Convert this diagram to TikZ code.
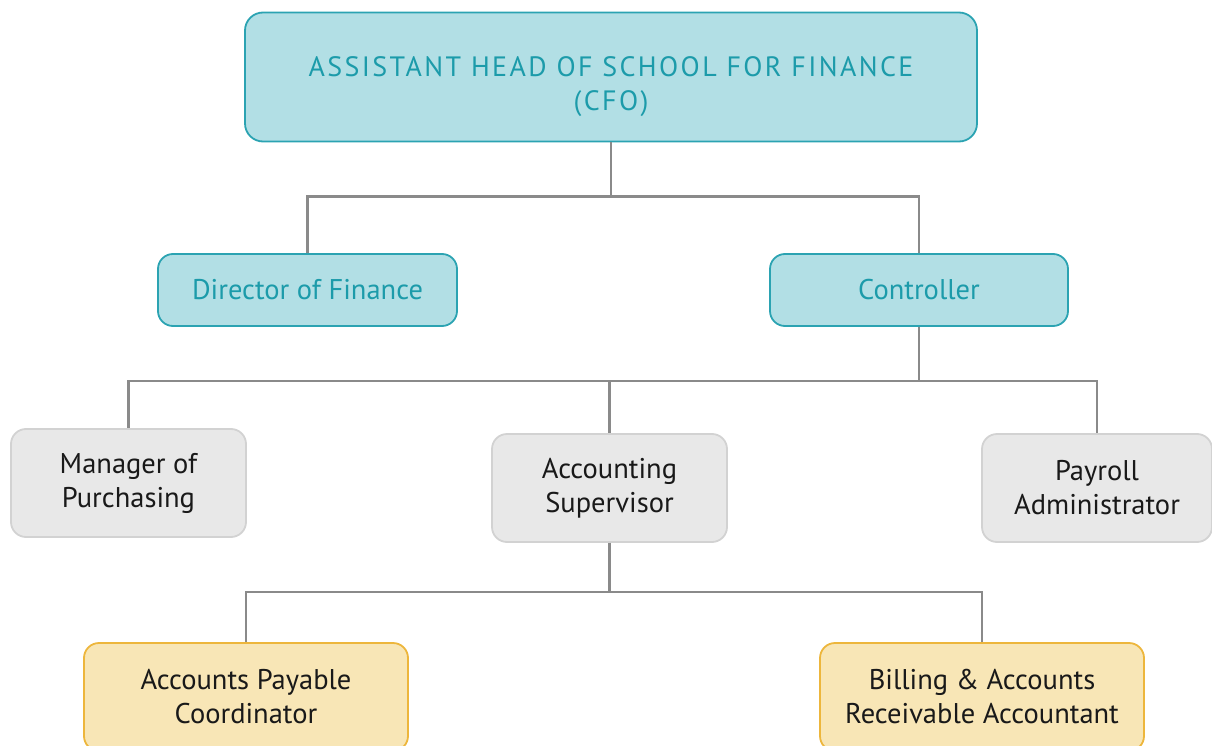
\documentclass[tikz,border=0pt]{standalone}
\usepackage{fontspec}
\setmainfont{PT Sans}
\usepackage{xcolor}
\usetikzlibrary{positioning}

\definecolor{tealfill}{HTML}{B2DFE5}
\definecolor{tealline}{HTML}{2BA3B2}
\definecolor{tealtext}{HTML}{1C9BAA}
\definecolor{grayfill}{HTML}{E8E8E8}
\definecolor{grayline}{HTML}{D2D2D2}
\definecolor{goldfill}{HTML}{F8E6B6}
\definecolor{goldline}{HTML}{EDB63C}
\definecolor{linkgray}{HTML}{8A8A8A}

\begin{document}
\begin{tikzpicture}[x=1pt, y=-1pt,
    orgbox/.style={rectangle, rounded corners=15pt, line width=1.8pt, align=center,
        inner sep=0pt, font=\fontsize{28.5}{34}\selectfont, text=black!90},
    tealbox/.style={orgbox, draw=tealline, fill=tealfill, text=tealtext},
    graybox/.style={orgbox, draw=grayline, fill=grayfill},
    goldbox/.style={orgbox, draw=goldline, fill=goldfill},
    link/.style={draw=linkgray, line width=2.4pt}]
    \useasboundingbox (0,0) rectangle (1212,746);
    \clip (0,0) rectangle (1212,746);

    % Head of finance
    \node[tealbox, rounded corners=18pt, minimum width=732pt, minimum height=129pt,
        font=\fontsize{28}{34}\selectfont\addfontfeature{LetterSpace=8.5}] (cfo) at (611,77)
        {\rule{0pt}{40pt}ASSISTANT HEAD OF SCHOOL FOR FINANCE\\(CFO)};

    % Second level
    \node[tealbox, minimum width=299pt, minimum height=72pt] (director) at (307.5,290) {Director of Finance};
    \node[tealbox, minimum width=298pt, minimum height=72pt] (controller) at (919,290) {Controller};

    % Third level
    \node[graybox, minimum width=235pt, minimum height=108pt] (purchasing) at (128.5,483) {Manager of\\Purchasing};
    \node[graybox, minimum width=235pt, minimum height=108pt] (supervisor) at (609.5,488) {Accounting\\Supervisor};
    \node[graybox, minimum width=230pt, minimum height=108pt] (payroll) at (1097,488) {Payroll\\Administrator};

    % Fourth level
    \node[goldbox, minimum width=324pt, minimum height=108pt] (payable) at (246,697) {Accounts Payable\\Coordinator};
    \node[goldbox, minimum width=324pt, minimum height=108pt] (billing) at (982,697) {Billing \& Accounts\\Receivable Accountant};

    % Connectors
    \draw[link] (cfo.south) -- ++(0,54) -| (director.north);
    \draw[link] (cfo.south) -- ++(0,54) -| (controller.north);
    \draw[link] (controller.south) -- ++(0,54) -| (purchasing.north);
    \draw[link] (controller.south) -- ++(0,54) -| (supervisor.north);
    \draw[link] (controller.south) -- ++(0,54) -| (payroll.north);
    \draw[link] (supervisor.south) -- ++(0,49) -| (payable.north);
    \draw[link] (supervisor.south) -- ++(0,49) -| (billing.north);
\end{tikzpicture}
\end{document}
